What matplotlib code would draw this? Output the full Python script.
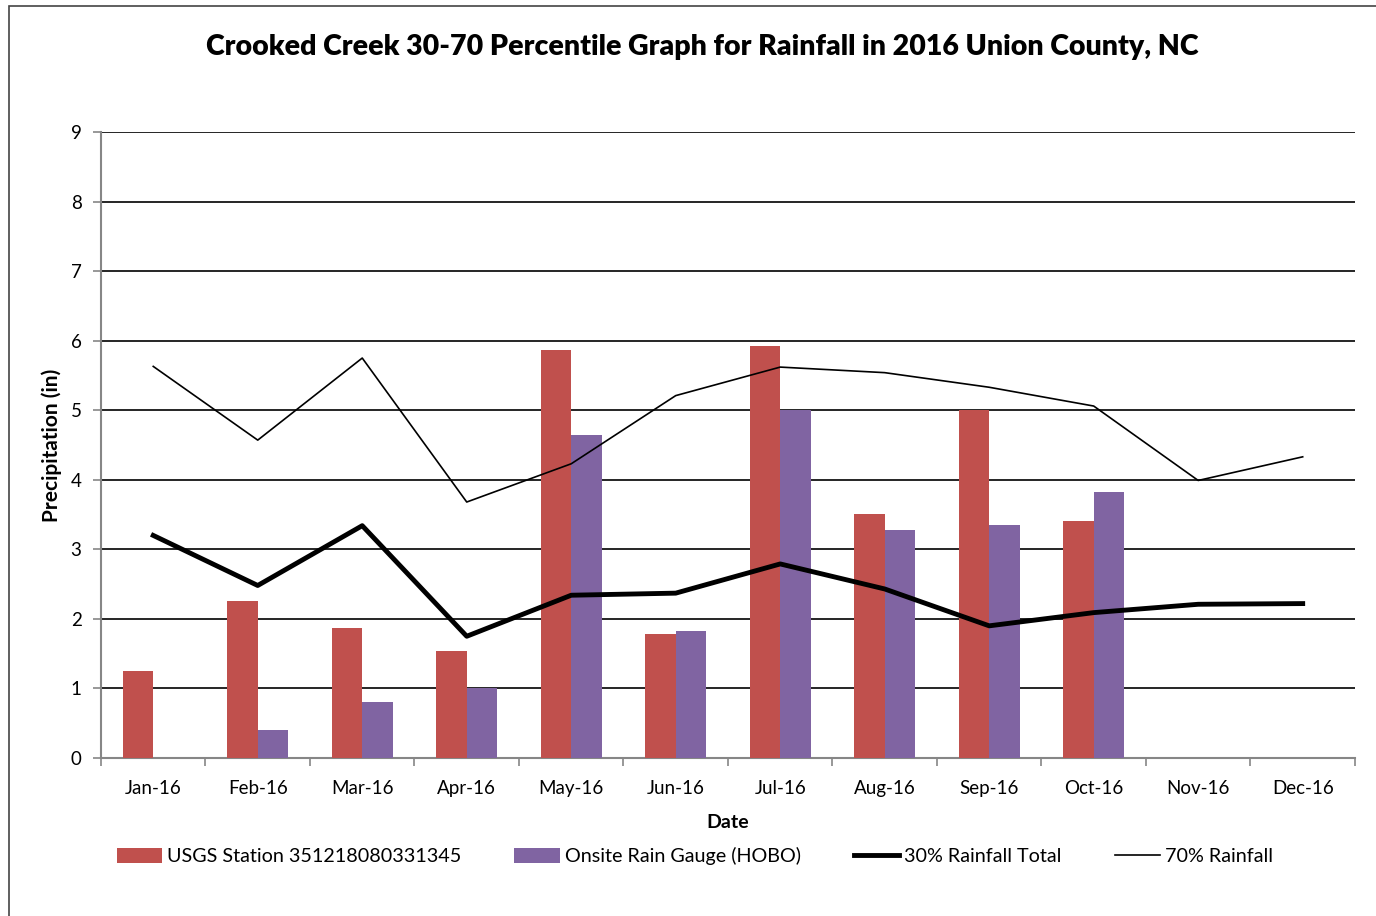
import matplotlib
matplotlib.use('Agg')
import matplotlib.pyplot as plt
from matplotlib.patches import Rectangle
import numpy as np

plt.rcParams['font.family'] = ['Lato', 'DejaVu Sans']

months = ['Jan-16', 'Feb-16', 'Mar-16', 'Apr-16', 'May-16', 'Jun-16',
          'Jul-16', 'Aug-16', 'Sep-16', 'Oct-16', 'Nov-16', 'Dec-16']
usgs = [1.25, 2.26, 1.87, 1.54, 5.87, 1.78, 5.93, 3.51, 5.01, 3.41, np.nan, np.nan]
hobo = [np.nan, 0.40, 0.80, 1.00, 4.64, 1.82, 5.00, 3.28, 3.35, 3.82, np.nan, np.nan]
pct30 = [3.20, 2.48, 3.34, 1.75, 2.34, 2.37, 2.79, 2.43, 1.90, 2.09, 2.21, 2.22]
pct70 = [5.63, 4.57, 5.75, 3.68, 4.23, 5.21, 5.62, 5.54, 5.33, 5.06, 3.99, 4.33]

red = '#c0504d'
purple = '#8064a2'
grey = '#868686'

fig = plt.figure(figsize=(13.76, 9.16), dpi=100)
# outer chart frame
fig.patches.append(Rectangle((9 / 1376, -0.01), 1.0, 1 - 6 / 916 + 0.01,
                             transform=fig.transFigure, fill=False,
                             edgecolor='#444444', linewidth=1.2))

ax = fig.add_axes([0.0734, 0.1725, 0.9113, 0.6834])
x = np.arange(len(months))
w = 0.29
b1 = ax.bar(x - w / 2, usgs, w, color=red, zorder=3)
b2 = ax.bar(x + w / 2, hobo, w, color=purple, zorder=3)
l1, = ax.plot(x, pct30, color='black', linewidth=3.5, zorder=4)
l2, = ax.plot(x, pct70, color='black', linewidth=1.2, zorder=4)

ax.set_xlim(-0.5, 11.5)
ax.set_ylim(0, 9)
ax.set_yticks(range(10))
ax.yaxis.grid(True, color='black', linewidth=1.2, zorder=1)
ax.set_axisbelow(True)

ax.set_xticks(x)
ax.set_xticklabels(months, fontsize=13.5)
ax.set_xticks(np.arange(-0.5, 12, 1), minor=True)
ax.tick_params(axis='x', which='major', length=0, pad=16)
ax.tick_params(axis='x', which='minor', length=6, color=grey, width=1.2)
ax.tick_params(axis='y', length=6, color=grey, width=1.2, labelsize=13.5, pad=8)

for s in ['top', 'right']:
    ax.spines[s].set_visible(False)
for s in ['left', 'bottom']:
    ax.spines[s].set_color(grey)
    ax.spines[s].set_linewidth(1.5)

ax.set_xlabel('Date', fontsize=14, fontweight='bold', labelpad=12)
ax.set_ylabel('Precipitation (in)', fontsize=15, fontweight='bold', labelpad=6)

fig.suptitle('Crooked Creek 30-70 Percentile Graph for Rainfall in 2016 Union County, NC',
             x=0.51, y=0.963, fontsize=20.5, fontweight='heavy')

fig.legend([b1, b2, l1, l2],
           ['USGS Station 351218080331345', 'Onsite Rain Gauge (HOBO)',
            '30% Rainfall Total', '70% Rainfall'],
           loc='center', bbox_to_anchor=(0.505, 0.065), ncol=4, frameon=False,
           fontsize=14.2, handlelength=2.3, handleheight=0.8, handletextpad=0.25,
           columnspacing=2.7)

fig.savefig('out.png', dpi=100)
